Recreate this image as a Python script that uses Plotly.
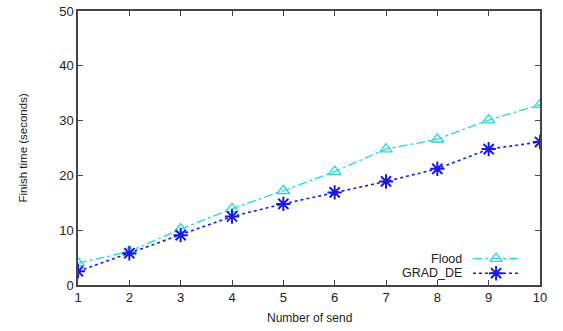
import plotly.graph_objects as go

sends = [1, 2, 3, 4, 5, 6, 7, 8, 9, 10]
flood = [4.0, 6.1, 10.2, 13.9, 17.2, 20.7, 24.8, 26.6, 30.1, 32.9]
grad_de = [2.5, 5.8, 9.1, 12.5, 14.8, 16.9, 18.9, 21.2, 24.8, 26.1]
series_names = ["Flood", "GRAD_DE"]
y_ticks = [0, 10, 20, 30, 40, 50]

cyan = "#22d8d8"
blue = "#1a1ae6"
font = "Liberation Sans, Arial, sans-serif"

fig = go.Figure()
fig.add_trace(go.Scatter(
    x=sends, y=flood, mode="lines+markers", name=series_names[0],
    line=dict(color=cyan, width=1.3, dash="dashdot"),
    marker=dict(symbol="triangle-up-open", size=11, color=cyan, line=dict(width=1.3, color=cyan)),
    showlegend=False))
fig.add_trace(go.Scatter(
    x=sends, y=grad_de, mode="lines+markers", name=series_names[1],
    line=dict(color=blue, width=1.6, dash="dot"),
    marker=dict(symbol="asterisk-open", size=12, color=blue, line=dict(width=2, color=blue)),
    showlegend=False))

# legend samples on an overlay axis (0..1 box)
leg_y = [0.096, 0.043]
styles = [
    (cyan, "dashdot", "triangle-up-open", 11, 1.3),
    (blue, "dot", "asterisk-open", 12, 2),
]
for name, ly, (c, d, s, sz, lw) in zip(series_names, leg_y, styles):
    fig.add_trace(go.Scatter(
        x=[0.855, 0.955], y=[ly, ly], mode="lines", xaxis="x2", yaxis="y2",
        line=dict(color=c, width=1.3 if d == "dashdot" else 1.6, dash=d),
        showlegend=False, hoverinfo="skip"))
    fig.add_trace(go.Scatter(
        x=[0.905], y=[ly], mode="markers", xaxis="x2", yaxis="y2",
        marker=dict(symbol=s, size=sz, color=c, line=dict(width=lw, color=c)),
        showlegend=False, hoverinfo="skip"))
    fig.add_annotation(x=0.835, y=ly, xref="x2", yref="y2", text=name,
                       showarrow=False, xanchor="right", yanchor="middle",
                       font=dict(family=font, size=12.5, color="#222"))

axis_common = dict(
    showline=True, linecolor="#444", linewidth=1.5, mirror="ticks",
    ticks="inside", ticklen=5, tickcolor="#444", tickwidth=1,
    showgrid=False, zeroline=False, automargin=False,
    tickfont=dict(family=font, size=13, color="#222"),
)

fig.add_annotation(x=0.5, y=-13, xref="paper", yref="paper", text="Number of send",
                   showarrow=False, xanchor="center", yanchor="middle",
                   font=dict(family=font, size=12, color="#222"))

fig.update_layout(
    width=563, height=331,
    margin=dict(l=78, r=23, t=11, b=46),
    plot_bgcolor="white", paper_bgcolor="white",
    xaxis=dict(range=[1, 10], tickvals=sends, **axis_common),
    yaxis=dict(range=[0, 50], tickvals=y_ticks, **axis_common),
    xaxis2=dict(range=[0, 1], overlaying="x", visible=False),
    yaxis2=dict(range=[0, 1], overlaying="y", visible=False),
    annotations=list(fig.layout.annotations) + [
        dict(x=-0.12, y=0.5, xref="paper", yref="paper", text="Finish time (seconds)",
             showarrow=False, xanchor="center", yanchor="middle", textangle=-90,
             font=dict(family=font, size=11.5, color="#222")),
    ],
)
# fix x title position (paper y in fraction)
fig.layout.annotations[2].y = -0.12

fig.write_html("out.html")
